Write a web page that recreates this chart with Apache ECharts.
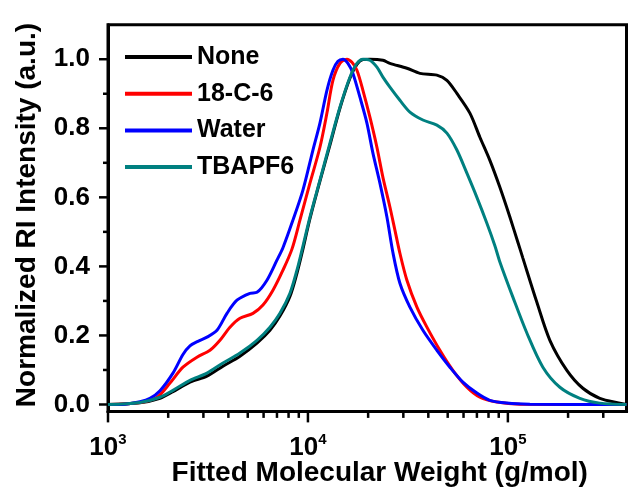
<!DOCTYPE html>
<html><head><meta charset="utf-8">
<script src="https://cdn.jsdelivr.net/npm/echarts@6/dist/echarts.min.js"></script>
<style>html,body{margin:0;padding:0;background:#fff}#c{width:629px;height:493px}</style>
</head><body><div id="c"></div><script>
// ---- data ----
const seriesNames = ['None', '18-C-6', 'Water', 'TBAPF6'];
const seriesColors = ['#000000', '#ff0000', '#0000ff', '#008080'];

const noneMw = [1000,1445,1820,2113,2570,3126,3758,4571,5559,6457,7244,8128,8810,9333,10233,11482,12882,14454,16218,17579,18836,20417,23714,25704,31261,36308,44157,49545,55590,64565,72444,81283,91201,102329,112202,118850,139637,162181,197242,237137,288403,363078,392000];
const noneInt = [0,0.005,0.018,0.037,0.065,0.082,0.111,0.140,0.178,0.215,0.256,0.313,0.380,0.438,0.538,0.647,0.751,0.858,0.945,0.985,0.999,1.0,0.997,0.988,0.974,0.959,0.954,0.939,0.901,0.844,0.774,0.707,0.629,0.543,0.470,0.424,0.296,0.186,0.099,0.047,0.018,0.004,0];

const crownMw = [1000,1445,1758,2042,2371,2786,3236,3631,4074,4571,5309,5957,6683,7499,8318,9120,10233,11482,12445,13335,14454,15668,16596,17579,18836,20417,22131,23714,25704,27227,28840,31261,35075,39355,45709,53088,62373,72444,88105,114815,392000];
const crownInt = [0,0.006,0.021,0.062,0.108,0.137,0.157,0.186,0.224,0.250,0.264,0.288,0.331,0.389,0.450,0.534,0.641,0.745,0.844,0.939,0.988,1.0,0.991,0.968,0.910,0.832,0.745,0.658,0.572,0.505,0.438,0.360,0.282,0.224,0.157,0.099,0.050,0.021,0.007,0.001,0];

const waterMw = [1000,1216,1445,1622,1820,2113,2371,2570,2818,3126,3508,3936,4416,5129,5559,6237,6998,7499,8414,9441,10593,11482,12445,13335,14125,14962,15849,16788,18197,19724,21135,22909,24831,26607,28840,32359,37584,44157,51286,59566,69984,81283,98855,128825,392000];
const waterInt = [0,0.001,0.008,0.018,0.040,0.091,0.145,0.170,0.183,0.195,0.215,0.264,0.302,0.322,0.325,0.360,0.418,0.454,0.534,0.621,0.737,0.815,0.910,0.968,0.994,1.0,0.988,0.959,0.890,0.815,0.728,0.641,0.543,0.440,0.351,0.282,0.215,0.157,0.108,0.065,0.033,0.012,0.004,0.001,0];

const tbaMw = [1000,1445,1820,2113,2570,3126,3758,4571,5559,6457,7244,8128,8810,9333,10233,11482,12882,14454,16218,17579,18836,20417,22131,23714,25704,28840,32359,37584,44157,49545,55590,62373,69984,78524,86099,91201,105925,124451,149624,181970,229087,288403,392000];
const tbaInt = [0,0.006,0.021,0.041,0.070,0.091,0.120,0.149,0.186,0.224,0.264,0.322,0.389,0.447,0.543,0.650,0.757,0.861,0.948,0.988,1.0,0.997,0.977,0.948,0.919,0.881,0.847,0.824,0.809,0.786,0.737,0.670,0.600,0.525,0.460,0.413,0.311,0.207,0.108,0.050,0.018,0.004,0];

const xMajorTicks = [1000, 10000, 100000];
const xMinorTicks = [2000,3000,4000,5000,6000,7000,8000,9000,20000,30000,40000,50000,60000,70000,80000,90000,200000,300000];
const yMajorTicks = [0, 0.2, 0.4, 0.6, 0.8, 1.0];
const yMinorTicks = [0.1, 0.3, 0.5, 0.7, 0.9];

const xMin = 1000, xMax = 392000, yMin = -0.02, yMax = 1.1;
const tickXMin = 1000, tickXMax = 100000;   // decade labels 10^3..10^5
const tickYMin = 0, tickYMax = 1, tickYStep = 0.2;

// ---- layout ----
const W = 629, H = 493;
const G = {left: 108, right: 2.5, top: 24.7, bottom: 81.6};
const plotW = W - G.left - G.right, plotH = H - G.top - G.bottom;
const lg = v => Math.log10(v);
const pxPerDecade = plotW / (lg(xMax) - lg(xMin));
const pxPerUnit = plotH / (yMax - yMin);
// secondary grid carrying the label axes, aligned to the main one
const G2 = {
  left: G.left,
  right: W - (G.left + (lg(tickXMax) - lg(xMin)) * pxPerDecade),
  top: G.top + (yMax - tickYMax) * pxPerUnit,
  bottom: G.bottom + (tickYMin - yMin) * pxPerUnit
};
const xOffset2 = (tickYMin - yMin) * pxPerUnit;

// ---- chart ----
const FONT = '"Liberation Sans", Arial, sans-serif';
const pairs = (xs, ys) => xs.map((x, i) => [x, ys[i]]);
const allData = [pairs(noneMw, noneInt), pairs(crownMw, crownInt), pairs(waterMw, waterInt), pairs(tbaMw, tbaInt)];

// tick marks drawn outward from the axis lines, positioned through the axes' scales
function tickSeries(data, dx, dy) {
  return {
    type: 'custom', xAxisIndex: 0, yAxisIndex: 0, data: data, clip: false, silent: true, z: 6,
    renderItem: function (params, api) {
      const p = api.coord([api.value(0), api.value(1)]);
      return {type: 'line', shape: {x1: p[0], y1: p[1], x2: p[0] + dx, y2: p[1] + dy},
        style: {stroke: '#000', lineWidth: 2.5, lineCap: 'butt'}};
    }
  };
}

const chart = echarts.init(document.getElementById('c'), null, {renderer: 'canvas'});
chart.setOption({
  animation: false,
  backgroundColor: '#ffffff',
  grid: [
    Object.assign({show: true, borderColor: '#000', borderWidth: 3, backgroundColor: 'transparent', outerBoundsMode: 'none', containLabel: false}, G),
    Object.assign({show: false, outerBoundsMode: 'none', containLabel: false}, G2)
  ],
  legend: {
    orient: 'vertical', left: 120, top: 39,
    itemWidth: 67, itemHeight: 4, itemGap: 10.7,
    icon: 'rect',
    data: seriesNames.map((n, i) => ({name: n, itemStyle: {color: seriesColors[i]}})),
    textStyle: {fontFamily: FONT, fontWeight: 'bold', fontSize: 25, color: '#000', lineHeight: 26},
    itemStyle: {borderWidth: 0}
  },
  xAxis: [{
    gridIndex: 0, type: 'log', logBase: 10, min: xMin, max: xMax, position: 'bottom',
    axisLine: {show: true, onZero: false, lineStyle: {color: '#000', width: 3}},
    axisTick: {show: false}, minorTick: {show: false}, splitLine: {show: false},
    axisLabel: {show: false},
    name: 'Fitted Molecular Weight (g/mol)', nameLocation: 'middle', nameGap: 48,
    nameTextStyle: {fontFamily: FONT, fontWeight: 'bold', fontSize: 28, color: '#000', padding: [0, 0, 0, 25]}
  }, {
    gridIndex: 1, type: 'log', logBase: 10, min: tickXMin, max: tickXMax, interval: 1, position: 'bottom',
    offset: xOffset2,
    axisLine: {show: false, onZero: false},
    axisTick: {show: false}, minorTick: {show: false}, splitLine: {show: false},
    axisLabel: {
      show: true, margin: 21, color: '#000', showMinLabel: true, showMaxLabel: true,
      formatter: v => '{b|10}{s|' + Math.round(Math.log10(v)) + '}',
      rich: {
        b: {fontFamily: FONT, fontWeight: 'bold', fontSize: 26, color: '#000', lineHeight: 30},
        s: {fontFamily: FONT, fontWeight: 'bold', fontSize: 15, color: '#000', verticalAlign: 'top', lineHeight: 14}
      }
    }
  }],
  yAxis: [{
    gridIndex: 0, type: 'value', min: yMin, max: yMax, position: 'left',
    axisLine: {show: true, onZero: false, lineStyle: {color: '#000', width: 3}},
    axisTick: {show: false}, splitLine: {show: false},
    axisLabel: {show: false},
    name: 'Normalized RI Intensity (a.u.)', nameLocation: 'middle', nameGap: 67,
    nameTextStyle: {fontFamily: FONT, fontWeight: 'bold', fontSize: 28, color: '#000', padding: [0, 0, 0, 6]}
  }, {
    gridIndex: 1, type: 'value', min: tickYMin, max: tickYMax, interval: tickYStep, position: 'left',
    axisLine: {show: false, onZero: false},
    axisTick: {show: false}, minorTick: {show: false}, splitLine: {show: false},
    axisLabel: {show: true, margin: 18, formatter: v => v.toFixed(1), showMinLabel: true, showMaxLabel: true,
      fontFamily: FONT, fontWeight: 'bold', fontSize: 26, color: '#000'}
  }],
  series: seriesNames.map((n, i) => ({
    name: n, type: 'line', xAxisIndex: 0, yAxisIndex: 0,
    data: allData[i], showSymbol: false, symbol: 'none', smooth: 0.3,
    clip: true, z: 3,
    lineStyle: {color: seriesColors[i], width: 3},
    itemStyle: {color: seriesColors[i]}
  })).concat([
    tickSeries(xMajorTicks.map(v => [v, yMin]), 0, 11),
    tickSeries(xMinorTicks.map(v => [v, yMin]), 0, 6.5),
    tickSeries(yMajorTicks.map(v => [xMin, v]), -9, 0),
    tickSeries(yMinorTicks.map(v => [xMin, v]), -5, 0)
  ])
});
</script></body></html>
